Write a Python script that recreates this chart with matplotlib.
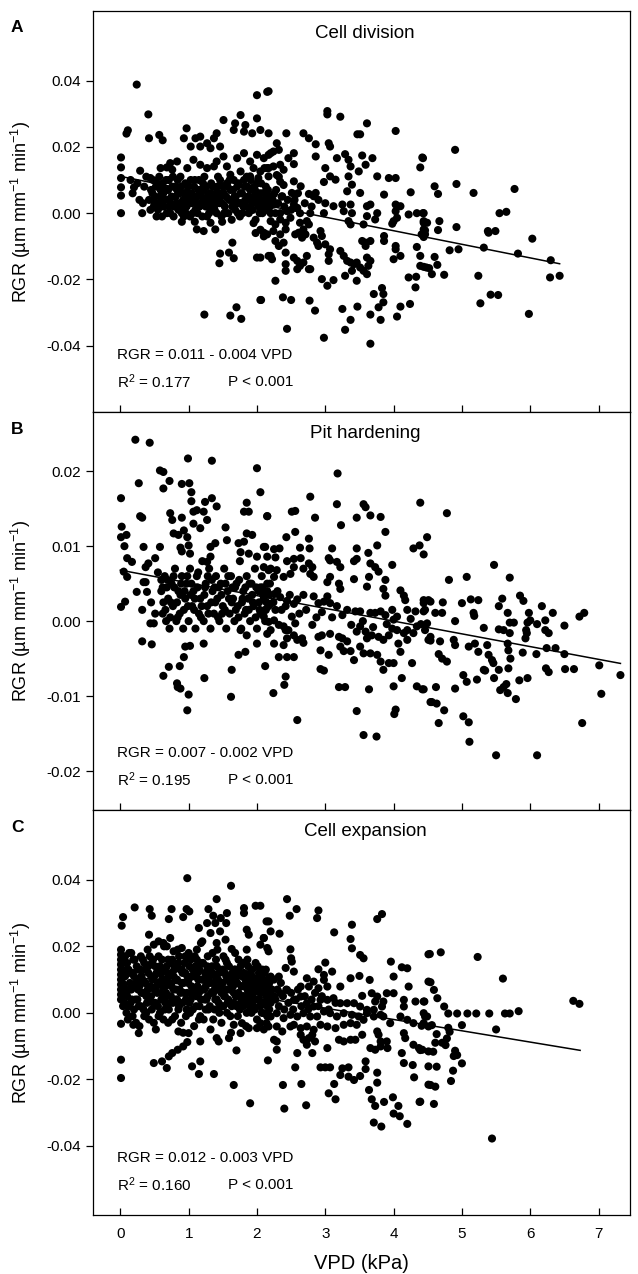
import numpy as np
import matplotlib
matplotlib.use('Agg')
import matplotlib.pyplot as plt

plt.rcParams['font.family'] = ['Liberation Sans', 'DejaVu Sans']
plt.rcParams['mathtext.default'] = 'regular'

# ---- panel A: cell division (VPD kPa, RGR) ----
pts_a = [
    (0.24, 0.0388), (0.41, 0.0298), (0.09, 0.024), (0.11, 0.025), (0.42, 0.0226), (0.57, 0.0236),
    (0.62, 0.022), (0.97, 0.0256), (0.01, 0.0168), (0.01, 0.0138), (0.01, 0.0106), (0.01, 0.0078),
    (0.01, 0.0053), (0.01, 0.0), (0.32, 0.0), (0.29, 0.0128), (0.2, 0.0078), (0.44, 0.0106),
    (0.59, 0.0136), (0.68, 0.0138), (0.76, 0.0131), (0.83, 0.0156), (0.73, 0.0151),
    (0.98, 0.0136), (1.07, 0.0161), (1.17, 0.0146), (1.27, 0.0136), (1.37, 0.0141), (1.41, 0.0156),
    (1.51, 0.0171), (1.56, 0.0141), (1.71, 0.0166), (1.81, 0.0181), (1.90, 0.0156), (2.0, 0.0176),
    (2.1, 0.0166), (2.17, 0.0176), (1.95, 0.0136), (2.05, 0.0126), (2.15, 0.0136),
    (0.93, 0.0226), (1.10, 0.0226), (1.17, 0.0201), (1.27, 0.0211), (1.37, 0.0226), (1.41, 0.0241),
    (1.17, 0.0231), (1.03, 0.0201), (1.32, 0.0196), (1.46, 0.0201), (1.51, 0.0281), (1.68, 0.0271),
    (1.76, 0.0296), (1.83, 0.0266), (2.0, 0.0356), (2.0, 0.0286), (2.15, 0.0366), (1.66, 0.0251),
    (1.81, 0.0246), (1.93, 0.0241), (2.05, 0.0251), (2.17, 0.0241),
    (1.61, 0.0116), (1.76, 0.0126), (1.90, 0.0111), (2.02, 0.0106), (2.17, 0.0111),
    (0.47, 0.006), (0.5, 0.003), (0.52, 0.008), (0.55, 0.001), (0.58, 0.005), (0.6, 0.002),
    (0.62, 0.009), (0.65, 0.004), (0.68, 0.0), (0.7, 0.007), (0.72, 0.002), (0.75, 0.005),
    (0.78, -0.001), (0.8, 0.008), (0.82, 0.003), (0.85, 0.001), (0.87, 0.006), (0.9, 0.0),
    (0.92, 0.004), (0.95, 0.009), (0.97, 0.002), (1.0, 0.006), (1.02, -0.001), (1.05, 0.003),
    (1.08, 0.008), (1.1, 0.001), (1.12, 0.005), (1.15, 0.01), (1.18, 0.003), (1.2, -0.001),
    (1.22, 0.007), (1.25, 0.002), (1.28, 0.005), (1.3, 0.0), (1.33, 0.009), (1.35, 0.004),
    (1.38, 0.001), (1.4, 0.006), (1.43, 0.011), (1.45, 0.003), (1.48, -0.001), (1.5, 0.008),
    (1.53, 0.002), (1.55, 0.005), (1.58, 0.0), (1.6, 0.01), (1.62, 0.004), (1.65, 0.007),
    (1.68, 0.001), (1.7, 0.003), (1.73, 0.009), (1.75, -0.001), (1.78, 0.006), (1.8, 0.002),
    (1.83, 0.004), (1.85, 0.011), (1.88, 0.0), (1.9, 0.007), (1.93, 0.003), (1.95, 0.005),
    (1.98, -0.002), (2.0, 0.009), (2.03, 0.002), (2.05, 0.006), (2.08, 0.0), (2.1, 0.004),
    (2.13, 0.008), (2.15, 0.002), (2.18, 0.005), (2.2, 0.0),
    (0.42, 0.004), (0.44, 0.001), (0.48, 0.01), (0.53, -0.001), (0.57, 0.011), (0.63, 0.006),
    (0.67, 0.01), (0.73, 0.0), (0.77, 0.011), (0.83, 0.007), (0.88, 0.011), (0.93, -0.001),
    (0.98, 0.004), (1.03, 0.01), (1.07, 0.005), (1.13, 0.0), (1.17, 0.007), (1.23, 0.011),
    (1.27, -0.001), (1.32, 0.006), (1.37, 0.002), (1.42, 0.008), (1.47, 0.005), (1.52, 0.0),
    (1.57, 0.008), (1.63, -0.002), (1.67, 0.005), (1.72, 0.0), (1.77, 0.003), (1.82, 0.008),
    (1.87, 0.005), (1.92, 0.001), (1.97, 0.007), (2.02, 0.004), (2.07, 0.001), (2.12, 0.006),
    (2.17, 0.003),
    (0.45, 0.007), (0.49, 0.002), (0.51, 0.005), (0.54, 0.009), (0.56, 0.003), (0.59, 0.007),
    (0.61, -0.001), (0.64, 0.002), (0.66, 0.007), (0.69, 0.004), (0.71, 0.01), (0.74, 0.003),
    (0.76, 0.008), (0.79, 0.002), (0.81, 0.005), (0.84, 0.01), (0.86, 0.003), (0.89, 0.008),
    (0.91, 0.002), (0.94, 0.006), (0.96, 0.0), (0.99, 0.008), (1.01, 0.003), (1.04, 0.006),
    (1.06, 0.0), (1.09, 0.01), (1.11, 0.003), (1.14, 0.007), (1.16, 0.002), (1.19, 0.005),
    (1.21, 0.009), (1.24, 0.004), (1.26, 0.008), (1.29, 0.003), (1.31, 0.006), (1.34, 0.001),
    (1.36, 0.008), (1.39, 0.004), (1.41, 0.0), (1.44, 0.006), (1.46, 0.01), (1.49, 0.003),
    (1.51, 0.006), (1.54, 0.0), (1.56, 0.009), (1.59, 0.004), (1.61, 0.007), (1.64, 0.002),
    (1.66, 0.01), (1.69, 0.005), (1.71, 0.008), (1.74, 0.003), (1.76, 0.006), (1.79, 0.0),
    (1.81, 0.01), (1.84, 0.002), (1.86, 0.008), (1.89, 0.004), (1.91, 0.01), (1.94, 0.001),
    (1.96, 0.008), (1.99, 0.003), (2.01, 0.006), (2.04, 0.0), (2.06, 0.009), (2.09, 0.003),
    (2.11, 0.001), (2.14, 0.004), (2.16, 0.007), (2.19, 0.002), (2.23, 0.004), (2.28, 0.007),
    (2.31, 0.003), (2.36, 0.005), (2.4, 0.002), (2.45, 0.004), (2.5, 0.001), (2.55, 0.004),
    (2.6, 0.006), (2.7, 0.003), (2.8, 0.002), (2.9, 0.004), (3.0, 0.003),
    (0.15, 0.01), (0.18, 0.006), (0.25, 0.009), (0.28, 0.004), (0.35, 0.008), (0.38, 0.011),
    (0.33, 0.003),
    (0.90, -0.0026), (1.09, -0.0026), (1.12, -0.0049), (1.22, -0.0054), (1.32, -0.0029),
    (1.39, -0.0049), (1.49, -0.0026), (1.64, -0.0089), (1.46, -0.0122), (1.59, -0.0119),
    (1.66, -0.0136), (1.45, -0.0151), (2.0, -0.0134), (2.17, -0.0129), (2.06, -0.0262),
    (1.23, -0.0306), (1.61, -0.0309), (1.70, -0.0284), (1.77, -0.0319),
    (1.95, -0.003), (2.05, -0.005), (2.1, -0.007), (1.98, -0.006),
    (2.17, 0.0368), (3.03, 0.0308), (3.03, 0.0298), (3.22, 0.0291), (3.61, 0.0271), (4.03, 0.0248),
    (2.43, 0.0241), (2.68, 0.0241), (2.76, 0.0226), (2.86, 0.0208), (3.05, 0.0211), (3.07, 0.0201),
    (3.47, 0.0238), (3.51, 0.0238), (2.29, 0.0211), (2.32, 0.0191), (2.24, 0.0186), (2.2, 0.0181),
    (2.54, 0.0181), (2.54, 0.0148), (2.46, 0.0166), (2.86, 0.0171), (3.17, 0.0166), (3.29, 0.0178),
    (3.34, 0.0161), (3.37, 0.0141), (3.54, 0.0174), (3.59, 0.0146), (3.69, 0.0166), (3.49, 0.0126),
    (3.0, 0.0136), (3.07, 0.0111), (3.15, 0.0101), (2.98, 0.0094), (3.34, 0.0111), (3.39, 0.0086),
    (3.32, 0.0066), (3.51, 0.0061), (3.76, 0.0111), (3.93, 0.0106), (4.03, 0.0106), (3.86, 0.0056),
    (4.25, 0.0063), (4.42, 0.0168), (4.39, 0.0138), (2.34, 0.0146), (2.39, 0.0131), (2.24, 0.0141),
    (2.17, 0.0136), (2.11, 0.0136), (2.32, 0.011), (2.34, 0.0095), (2.39, 0.0085), (2.29, 0.0115),
    (2.54, 0.0096), (2.64, 0.0081), (2.56, 0.0056), (2.51, 0.0061), (2.76, 0.0058), (2.83, 0.0051),
    (2.86, 0.0061), (2.10, 0.0061), (2.15, 0.0051), (2.25, 0.0058), (2.37, 0.0051),
    (2.07, 0.0016), (2.1, 0.0006), (2.25, 0.0026), (2.27, 0.0), (2.34, 0.0), (2.44, 0.0006),
    (2.54, 0.0026), (2.59, 0.0016), (2.63, 0.0), (2.78, 0.0), (2.98, 0.0), (3.12, 0.0021),
    (3.25, 0.0026), (3.27, 0.0006), (3.37, 0.0026), (3.39, 0.0), (3.61, 0.0021), (3.66, 0.0026),
    (3.76, 0.0), (4.03, 0.0026), (4.03, 0.0006), (4.1, 0.0021), (4.22, -0.0004), (4.34, 0.0),
    (4.44, 0.0),
    (3.61, -0.0009), (3.73, -0.0019), (3.34, -0.0024), (3.37, -0.0034), (3.56, -0.0034),
    (4.0, -0.0024), (4.05, -0.0014), (3.98, -0.0032),
    (2.2, -0.0024), (2.27, -0.0034), (2.34, -0.0019), (2.42, -0.0029), (2.49, -0.0014),
    (2.63, -0.0029), (2.73, -0.0024), (2.76, -0.0034),
    (2.1, -0.0059), (2.15, -0.0064), (2.24, -0.0054), (2.34, -0.0064), (2.42, -0.0049),
    (2.56, -0.0064), (2.61, -0.0059), (2.66, -0.0074), (2.68, -0.0049), (2.71, -0.0064),
    (2.93, -0.0054), (2.95, -0.0069),
    (2.27, -0.0084), (2.32, -0.0099), (2.39, -0.0089), (2.42, -0.0119), (2.2, -0.0129),
    (2.22, -0.0139), (2.05, -0.0134),
    (2.83, -0.0074), (2.88, -0.0089), (2.9, -0.0099), (3.0, -0.0094), (3.07, -0.0109), (3.05, -0.0124),
    (2.54, -0.0134), (2.59, -0.0144), (2.63, -0.0159), (2.68, -0.0149), (2.59, -0.0169),
    (2.73, -0.0129), (2.76, -0.0169), (2.42, -0.0174), (2.42, -0.0154),
    (3.05, -0.0144), (3.22, -0.0114), (3.27, -0.0129), (3.32, -0.0144), (3.37, -0.0149),
    (3.42, -0.0154), (3.46, -0.0149), (3.51, -0.0164), (3.56, -0.0174), (3.61, -0.0184),
    (3.63, -0.0159), (3.66, -0.0144), (3.61, -0.0134), (3.39, -0.0174), (3.29, -0.0189),
    (3.46, -0.0204),
    (3.54, -0.0084), (3.59, -0.0089), (3.66, -0.0084), (3.59, -0.0099), (3.86, -0.0069),
    (3.86, -0.0084), (4.03, -0.0099), (4.03, -0.0109), (4.0, -0.0139), (4.1, -0.0129),
    (2.95, -0.0199), (3.03, -0.0219), (3.12, -0.0202), (2.78, -0.0169), (2.27, -0.0204),
    (2.05, -0.0262), (2.38, -0.0254), (2.5, -0.0262), (2.77, -0.0264), (2.85, -0.0294),
    (2.44, -0.0349), (2.98, -0.0376), (3.25, -0.0289), (3.29, -0.0352), (3.37, -0.0322),
    (3.47, -0.0282), (3.66, -0.0394), (3.66, -0.0306), (3.71, -0.0244), (3.78, -0.0284),
    (3.81, -0.0322), (3.83, -0.0226), (3.85, -0.0244), (3.85, -0.0269), (4.05, -0.0312),
    (4.1, -0.0282), (4.24, -0.0274), (4.22, -0.0194), (4.33, -0.0192), (4.32, -0.0224),
    (4.39, -0.0159), (4.48, -0.0164), (4.34, -0.0102), (4.39, -0.0129), (4.44, -0.0049),
    (4.46, -0.0064), (4.44, -0.0029),
    (4.90, 0.0191), (4.43, 0.0166), (4.60, 0.0081), (4.65, 0.0058), (4.92, 0.0088),
    (5.17, 0.0061), (5.77, 0.0073), (5.55, 0.0), (5.65, 0.0004), (4.43, 0.0), (4.44, -0.0024),
    (4.49, -0.0029), (4.46, -0.0052), (4.41, -0.0064), (4.44, -0.0072), (4.67, -0.0024),
    (4.65, -0.0051), (4.92, -0.0042), (5.38, -0.0054), (5.39, -0.0059), (5.49, -0.0054),
    (6.03, -0.0077), (4.60, -0.0132), (4.82, -0.0112), (4.95, -0.0109), (5.32, -0.0104),
    (5.82, -0.0122), (6.30, -0.0142), (4.44, -0.0162), (4.52, -0.0166), (4.56, -0.0184),
    (4.64, -0.0156), (4.74, -0.0186), (5.24, -0.0189), (6.29, -0.0194), (6.43, -0.0189),
    (5.42, -0.0246), (5.53, -0.0247), (5.27, -0.0272), (5.98, -0.0304),
]

# ---- panel B: pit hardening ----
pts_b = [
    (0.22, 0.0242), (0.43, 0.0238), (0.99, 0.0217), (1.34, 0.0214), (0.58, 0.0201), (0.63, 0.0199),
    (0.72, 0.0187), (0.63, 0.0177), (0.27, 0.0184), (0.90, 0.0183), (1.01, 0.0184), (1.04, 0.0172),
    (0.01, 0.0164), (1.04, 0.016), (1.12, 0.0148), (1.24, 0.0159), (1.34, 0.0164), (1.41, 0.0153),
    (1.22, 0.0146), (0.73, 0.0144), (0.76, 0.0135), (0.90, 0.0138), (1.07, 0.0146), (0.29, 0.014),
    (0.32, 0.0138), (1.27, 0.0135), (1.07, 0.013), (1.17, 0.0124), (1.85, 0.0158), (1.88, 0.0146),
    (1.81, 0.0146), (2.0, 0.0204), (2.05, 0.0172), (2.15, 0.014), (1.54, 0.0125), (0.02, 0.0126),
    (0.01, 0.0112), (0.09, 0.0115), (0.06, 0.01), (0.34, 0.0099), (0.58, 0.0099), (0.78, 0.0117),
    (0.85, 0.0115), (0.98, 0.0112), (0.93, 0.0121), (0.88, 0.0098), (0.9, 0.0093), (1.02, 0.009),
    (1.0, 0.0101), (1.32, 0.0099), (1.39, 0.0104), (1.32, 0.0086), (1.27, 0.0079), (1.56, 0.0108),
    (1.73, 0.0104), (1.81, 0.0106), (1.85, 0.0117), (1.93, 0.0115), (1.76, 0.0092), (1.88, 0.009),
    (2.0, 0.0086), (2.1, 0.0099), (0.10, 0.0084), (0.17, 0.0079), (0.37, 0.0072), (0.51, 0.0084),
    (0.41, 0.0077), (0.05, 0.0066), (0.10, 0.0059), (0.34, 0.0052), (0.44, -0.0003), (0.49, -0.0003),
    (0.32, 0.0015), (0.24, 0.0039), (0.39, 0.0039), (0.37, 0.0052), (0.01, 0.0019), (0.07, 0.0026),
    (0.51, 0.001), (0.32, -0.0027), (0.46, -0.0031), (0.95, -0.0034), (1.02, -0.0033),
    (1.22, -0.003), (0.93, -0.0048), (1.73, -0.0045), (1.83, -0.0041), (1.85, -0.0019),
    (2.0, -0.003), (1.76, -0.0012), (0.71, -0.0061), (0.63, -0.0073), (0.87, -0.006),
    (1.23, -0.0076), (1.63, -0.0065), (2.12, -0.006), (0.83, -0.0083), (0.88, -0.009),
    (1.0, -0.0098), (0.84, -0.0088), (1.62, -0.0101), (0.98, -0.0119),
    (0.6, 0.004), (0.62, 0.001), (0.65, 0.006), (0.67, 0.0), (0.7, 0.003), (0.72, -0.001),
    (0.75, 0.005), (0.77, 0.002), (0.8, 0.007), (0.82, 0.0), (0.85, 0.004), (0.87, 0.001),
    (0.9, 0.006), (0.92, -0.001), (0.95, 0.003), (0.97, 0.005), (1.0, 0.0), (1.02, 0.007),
    (1.05, 0.002), (1.07, 0.004), (1.1, -0.001), (1.12, 0.006), (1.15, 0.001), (1.17, 0.003),
    (1.2, 0.008), (1.22, 0.0), (1.25, 0.005), (1.27, 0.002), (1.3, 0.007), (1.32, -0.001),
    (1.35, 0.004), (1.37, 0.001), (1.4, 0.006), (1.42, 0.003), (1.45, 0.0), (1.47, 0.005),
    (1.5, 0.002), (1.52, 0.007), (1.55, -0.001), (1.57, 0.004), (1.6, 0.001), (1.62, 0.006),
    (1.65, 0.003), (1.67, 0.0), (1.7, 0.005), (1.72, 0.002), (1.75, 0.008), (1.77, -0.001),
    (1.8, 0.004), (1.82, 0.001), (1.85, 0.006), (1.87, 0.003), (1.9, 0.0), (1.92, 0.005),
    (1.95, 0.002), (1.97, 0.007), (2.0, -0.001), (2.02, 0.004), (2.05, 0.001), (2.07, 0.006),
    (2.1, 0.003), (2.12, 0.0), (2.15, 0.005), (2.17, 0.002), (2.2, 0.007),
    (0.63, 0.0025), (0.68, 0.0045), (0.73, 0.0005), (0.78, 0.006), (0.83, 0.0025), (0.88, 0.0035),
    (0.93, 0.0015), (0.98, 0.006), (1.03, 0.0035), (1.08, 0.0015), (1.13, 0.0045), (1.18, 0.0005),
    (1.23, 0.0035), (1.28, 0.006), (1.33, 0.0025), (1.38, 0.0045), (1.43, 0.0005), (1.48, 0.0035),
    (1.53, 0.0015), (1.58, 0.006), (1.63, 0.0025), (1.68, 0.0045), (1.73, 0.0005), (1.78, 0.0025),
    (1.83, 0.0045), (1.88, 0.0015), (1.93, 0.0035), (1.98, 0.0005), (2.03, 0.0025), (2.08, 0.0045),
    (2.13, 0.0015), (2.18, 0.0035), (0.55, 0.0065), (0.6, 0.0055), (0.45, 0.0025),
    (0.62, 0.0045), (0.66, 0.0015), (0.69, 0.0055), (0.74, 0.0025), (0.79, 0.0045), (0.84, 0.0005),
    (0.89, 0.005), (0.94, 0.004), (0.99, 0.002), (1.04, 0.005), (1.09, 0.003), (1.14, 0.0065),
    (1.19, 0.002), (1.24, 0.0045), (1.29, 0.001), (1.34, 0.0055), (1.39, 0.0025), (1.44, 0.0045),
    (1.49, 0.001), (1.54, 0.005), (1.59, 0.003), (1.64, 0.0045), (1.69, 0.0015), (1.74, 0.0055),
    (1.79, 0.003), (1.84, 0.0015), (1.89, 0.005), (1.94, 0.0025), (1.99, 0.0045), (2.04, 0.0015),
    (2.09, 0.0035), (2.14, 0.0025), (2.19, 0.005), (2.24, 0.0025), (2.3, 0.004), (2.36, 0.0015),
    (2.48, 0.0035), (2.62, 0.001), (2.72, 0.0015), (2.87, 0.0005), (2.95, 0.0012), (3.1, 0.0005),
    (3.25, 0.0008), (3.38, -0.0005), (3.55, 0.0), (3.7, -0.0008), (3.9, -0.0004), (4.0, 0.0002),
    (4.25, 0.0003), (4.4, -0.0004),
    (3.18, 0.0197), (2.78, 0.0166), (3.17, 0.0156), (3.56, 0.0156), (3.59, 0.0152), (2.51, 0.0146),
    (2.56, 0.0147), (2.15, 0.014), (2.85, 0.0138), (3.46, 0.0138), (3.66, 0.0141), (3.81, 0.0139),
    (3.23, 0.0128), (4.39, 0.0158), (2.56, 0.0119), (2.43, 0.0112), (2.76, 0.011), (2.77, 0.0097),
    (2.63, 0.0098), (3.10, 0.0097), (3.46, 0.0097), (3.63, 0.0091), (3.76, 0.0101), (3.88, 0.0119),
    (4.49, 0.0112), (4.29, 0.0097), (4.38, 0.0101), (4.44, 0.0089),
    (2.12, 0.0099), (2.25, 0.0096), (2.33, 0.0097), (2.15, 0.0086), (2.27, 0.0085), (2.44, 0.008),
    (2.54, 0.0083), (2.64, 0.0084), (2.1, 0.0072), (2.17, 0.0068),
    (3.05, 0.0084), (3.07, 0.0081), (3.17, 0.0079), (3.22, 0.0072), (3.42, 0.0080), (3.46, 0.0083),
    (3.66, 0.0077), (3.73, 0.0072), (3.78, 0.0066), (3.98, 0.0075),
    (2.76, 0.0077), (2.81, 0.0072), (2.78, 0.0063), (2.83, 0.0059), (2.68, 0.007), (2.54, 0.0072),
    (2.49, 0.0063), (2.29, 0.0068), (2.39, 0.0059), (2.25, 0.0059),
    (3.03, 0.0052), (3.07, 0.0059), (3.2, 0.005), (3.22, 0.0043), (3.42, 0.0056), (3.64, 0.0059),
    (3.61, 0.0046), (3.88, 0.0055), (3.85, 0.0043), (3.88, 0.0034), (4.1, 0.0041), (4.15, 0.0034),
    (4.17, 0.0028),
    (2.68, 0.0035), (2.83, 0.0033), (2.9, 0.0024), (2.98, 0.0026), (3.03, 0.0033), (3.07, 0.0024),
    (3.17, 0.002), (3.32, 0.0015), (3.44, 0.0013), (3.51, 0.0013), (3.66, 0.0011), (3.73, 0.0011),
    (3.81, 0.0013), (3.88, 0.0008), (3.98, 0.0015), (4.05, 0.0006), (4.2, 0.0015), (4.32, 0.0013),
    (4.44, 0.0013), (4.51, 0.0028), (4.44, 0.0024),
    (2.05, 0.0045), (2.15, 0.004), (2.25, 0.0036), (2.34, 0.0032), (2.44, 0.0027), (2.54, 0.0023),
    (2.59, 0.0029), (2.2, 0.0023), (2.12, 0.0015), (2.27, 0.0015), (2.42, 0.002), (2.51, 0.0006),
    (2.1, 0.0006), (2.17, -0.0001), (2.25, 0.0001), (2.32, -0.0005), (2.39, -0.0007),
    (2.46, -0.0012), (2.56, -0.0003),
    (2.15, -0.0017), (2.2, -0.0012), (2.42, -0.0012), (2.44, -0.0023), (2.54, -0.0019), (2.59, -0.0025),
    (2.66, -0.0023), (2.68, -0.0029), (2.81, -0.0005), (2.9, -0.0021), (2.95, -0.0019),
    (3.07, -0.0017), (3.2, -0.0021), (3.25, -0.0023), (3.32, -0.0027), (3.46, -0.0014),
    (3.51, -0.0007), (3.59, -0.0014), (3.61, -0.0023), (3.68, -0.0019), (3.78, -0.0021),
    (3.85, -0.0025), (3.93, -0.0019), (3.98, -0.001), (4.05, -0.0012), (4.15, -0.0016),
    (4.2, -0.0012), (4.29, -0.0016), (4.34, -0.0007), (4.49, -0.0003), (4.46, -0.0012),
    (4.54, -0.0021), (4.51, -0.0025),
    (2.25, -0.003), (2.39, -0.0032), (2.32, -0.0048), (2.44, -0.0048), (2.54, -0.0048),
    (2.93, -0.0039), (3.05, -0.0045), (3.22, -0.0034), (3.27, -0.004), (3.37, -0.004),
    (3.42, -0.0052), (3.51, -0.0034), (3.56, -0.0043), (3.66, -0.0043), (3.76, -0.0045),
    (3.81, -0.0054), (3.93, -0.0056), (3.85, -0.0065), (4.07, -0.003), (4.1, -0.0041),
    (4.0, -0.0056), (4.2, -0.0025), (4.27, -0.0056),
    (2.42, -0.0074), (2.4, -0.0085), (2.24, -0.0096), (2.93, -0.0064), (2.98, -0.0066),
    (3.2, -0.0088), (3.29, -0.0088), (3.64, -0.0091), (4.12, -0.0076), (4.0, -0.0087),
    (4.34, -0.0087), (4.42, -0.0091), (3.46, -0.012), (4.03, -0.0118), (4.01, -0.0124),
    (2.59, -0.0132), (3.56, -0.0152), (3.75, -0.0154), (4.54, -0.0108),
    (4.78, 0.0144), (5.47, 0.0075), (4.81, 0.0055), (5.07, 0.0059), (5.70, 0.0058),
    (4.44, 0.0028), (4.54, 0.0026), (4.46, 0.0015), (4.61, 0.0011), (4.71, 0.0011), (4.72, 0.0025),
    (5.0, 0.0024), (5.13, 0.0029), (5.24, 0.0028), (5.17, 0.0011), (5.18, 0.0007), (4.90, 0.0),
    (5.32, -0.0009), (5.54, 0.002), (5.59, 0.003), (5.67, 0.0011), (5.70, -0.0002), (5.76, -0.0002),
    (5.54, -0.0011), (5.61, -0.0012), (5.70, -0.0016), (5.85, 0.0034), (5.90, 0.0027),
    (5.98, 0.0011), (5.96, -0.0002), (6.0, 0.0001), (5.94, -0.0012), (5.95, -0.0016),
    (5.93, -0.0023), (6.10, -0.0004), (6.17, 0.002), (6.22, 0.0001), (6.22, -0.0012),
    (6.27, -0.0016), (6.33, 0.0011), (6.50, -0.0006), (6.72, 0.0006), (6.79, 0.0011),
    (4.54, -0.0026), (4.68, -0.0027), (4.88, -0.0025), (4.90, -0.0032), (5.10, -0.0034),
    (5.19, -0.003), (5.24, -0.0041), (5.37, -0.0032), (5.39, -0.0045), (5.44, -0.0052),
    (5.46, -0.0056), (5.54, -0.0065), (5.67, -0.003), (5.68, -0.0039), (5.71, -0.005),
    (5.68, -0.0063), (5.89, -0.0042), (6.09, -0.0044), (6.24, -0.0036), (6.37, -0.0036),
    (6.50, -0.0044), (6.23, -0.0063), (6.27, -0.0068), (6.51, -0.0064), (6.64, -0.0064),
    (7.01, -0.0059), (7.32, -0.0072), (4.66, -0.0044), (4.71, -0.005), (4.78, -0.0054),
    (5.02, -0.0072), (5.07, -0.0081), (5.22, -0.0078), (5.34, -0.0066), (5.32, -0.0065),
    (5.47, -0.0076), (5.56, -0.0092), (5.61, -0.0088), (5.65, -0.0084), (5.67, -0.0096),
    (5.79, -0.0104), (5.84, -0.0079), (5.96, -0.0076), (4.90, -0.009), (4.44, -0.0091),
    (4.62, -0.0088), (4.56, -0.0108), (4.63, -0.011), (4.74, -0.0119), (5.02, -0.0127),
    (5.10, -0.0135), (4.66, -0.0136), (5.11, -0.0161), (5.50, -0.0179), (6.10, -0.0179),
    (6.76, -0.0136), (7.04, -0.0097),
]

# ---- panel C: cell expansion ----
pts_c = [
    (0.98, 0.0405), (1.62, 0.0382), (1.41, 0.0342), (0.21, 0.0317), (0.43, 0.0312), (0.46, 0.0292),
    (0.75, 0.0312), (0.71, 0.0282), (0.97, 0.0312), (1.01, 0.0305), (0.92, 0.0288), (0.04, 0.0288),
    (0.02, 0.0262), (1.29, 0.0312), (1.36, 0.0292), (1.27, 0.027), (1.39, 0.027), (1.47, 0.0285),
    (1.56, 0.03), (1.55, 0.027), (1.81, 0.0315), (1.81, 0.03), (1.98, 0.0322), (1.85, 0.025),
    (1.88, 0.0235), (2.14, 0.0275), (1.15, 0.0255), (1.32, 0.024), (1.46, 0.0245), (1.54, 0.022),
    (1.20, 0.0215), (1.12, 0.019), (1.41, 0.021), (0.42, 0.0235), (0.49, 0.0205), (0.56, 0.0215),
    (0.63, 0.021), (0.73, 0.0225), (0.68, 0.02), (0.78, 0.0185), (0.90, 0.0195), (1.63, 0.0192),
    (1.85, 0.019), (2.10, 0.0225), (2.15, 0.0195),
    (0.01, 0.019), (0.01, 0.0175), (0.01, 0.016), (0.01, 0.0145), (0.01, 0.013), (0.01, 0.0115),
    (0.01, 0.01), (0.01, 0.0085), (0.01, 0.007), (0.01, 0.0055), (0.01, 0.004), (0.01, -0.0033),
    (0.01, -0.0141), (0.01, -0.0196),
    (0.19, -0.0036), (0.27, -0.0061), (0.85, -0.0056), (1.0, -0.0061), (1.17, -0.0086),
    (1.41, -0.0076), (1.44, -0.0086), (1.59, -0.0076), (1.66, -0.0036), (1.78, -0.0031),
    (1.76, -0.0061), (1.88, -0.0046), (2.0, -0.0046), (2.14, -0.0031), (1.70, -0.0113),
    (0.98, -0.0088), (0.92, -0.0101), (0.84, -0.0111), (0.76, -0.0121), (0.71, -0.0131),
    (0.61, -0.0146), (0.49, -0.0151), (0.68, -0.0166), (1.05, -0.0161), (1.17, -0.0146),
    (1.15, -0.0184), (1.37, -0.0184), (1.66, -0.0217), (1.90, -0.0272),
    (0.05, 0.012), (0.08, 0.006), (0.1, 0.015), (0.12, 0.002), (0.14, 0.009), (0.16, 0.018),
    (0.18, -0.001), (0.2, 0.011), (0.22, 0.004), (0.24, 0.014), (0.26, 0.007), (0.28, -0.004),
    (0.3, 0.017), (0.32, 0.01), (0.34, 0.001), (0.36, 0.013), (0.38, 0.005), (0.4, 0.019),
    (0.42, -0.002), (0.44, 0.008), (0.46, 0.015), (0.48, 0.003), (0.5, 0.011), (0.52, -0.005),
    (0.54, 0.006), (0.56, 0.017), (0.58, 0.0), (0.6, 0.012), (0.62, 0.008), (0.64, 0.02),
    (0.66, 0.003), (0.68, 0.014), (0.7, -0.003), (0.72, 0.009), (0.74, 0.005), (0.76, 0.016),
    (0.78, 0.011), (0.8, -0.001), (0.82, 0.007), (0.84, 0.019), (0.86, 0.002), (0.88, 0.013),
    (0.9, 0.009), (0.92, -0.006), (0.94, 0.015), (0.96, 0.004), (0.98, 0.011), (1.0, 0.018),
    (1.02, 0.0), (1.04, 0.008), (1.06, 0.013), (1.08, -0.004), (1.1, 0.006), (1.12, 0.016),
    (1.14, 0.01), (1.16, 0.002), (1.18, 0.021), (1.2, 0.007), (1.22, -0.002), (1.24, 0.012),
    (1.26, 0.004), (1.28, 0.017), (1.3, 0.009), (1.32, -0.005), (1.34, 0.014), (1.36, 0.006),
    (1.38, 0.001), (1.4, 0.011), (1.42, 0.019), (1.44, 0.003), (1.46, 0.008), (1.48, -0.003),
    (1.5, 0.013), (1.52, 0.005), (1.54, 0.016), (1.56, 0.0), (1.58, 0.01), (1.6, 0.007),
    (1.62, -0.006), (1.64, 0.012), (1.66, 0.003), (1.68, 0.018), (1.7, 0.009), (1.72, -0.001),
    (1.74, 0.005), (1.76, 0.014), (1.78, 0.011), (1.8, 0.002), (1.82, 0.008), (1.84, -0.004),
    (1.86, 0.016), (1.88, 0.006), (1.9, 0.012), (1.92, 0.0), (1.94, 0.009), (1.96, 0.004),
    (1.98, 0.015), (2.0, -0.002), (2.02, 0.007), (2.04, 0.011), (2.06, 0.003), (2.08, 0.013),
    (2.1, -0.005), (2.12, 0.008), (2.14, 0.005), (2.16, 0.01), (2.18, 0.001), (2.2, 0.006),
    (0.03, 0.009), (0.06, 0.003), (0.09, 0.013), (0.11, -0.002), (0.13, 0.007), (0.15, 0.012),
    (0.17, 0.004), (0.19, 0.016), (0.21, 0.008), (0.23, -0.003), (0.25, 0.01), (0.27, 0.002),
    (0.29, 0.013), (0.31, 0.006), (0.33, 0.016), (0.35, -0.001), (0.37, 0.009), (0.39, 0.003),
    (0.41, 0.012), (0.43, 0.017), (0.45, 0.005), (0.47, 0.01), (0.49, -0.003), (0.51, 0.014),
    (0.53, 0.008), (0.55, 0.002), (0.57, 0.012), (0.59, 0.006), (0.61, 0.016), (0.63, -0.002),
    (0.65, 0.01), (0.67, 0.006), (0.69, 0.012), (0.71, 0.001), (0.73, 0.015), (0.75, 0.008),
    (0.77, 0.003), (0.79, 0.013), (0.81, 0.01), (0.83, 0.004), (0.85, 0.015), (0.87, 0.007),
    (0.89, -0.003), (0.91, 0.012), (0.93, 0.006), (0.95, 0.017), (0.97, 0.001), (0.99, 0.009),
    (1.01, 0.014), (1.03, 0.004), (1.05, 0.011), (1.07, 0.007), (1.09, 0.017), (1.11, 0.002),
    (1.13, 0.012), (1.15, 0.006), (1.17, -0.001), (1.19, 0.015), (1.21, 0.01), (1.23, 0.004),
    (1.25, 0.008), (1.27, 0.014), (1.29, 0.001), (1.31, 0.011), (1.33, 0.006), (1.35, 0.018),
    (1.37, 0.009), (1.39, 0.004), (1.41, 0.014), (1.43, 0.007), (1.45, 0.012), (1.47, 0.002),
    (1.49, 0.009), (1.51, 0.017), (1.53, 0.005), (1.55, 0.011), (1.57, 0.003), (1.59, 0.014),
    (1.61, 0.009), (1.63, 0.002), (1.65, 0.008), (1.67, 0.013), (1.69, 0.005), (1.71, 0.011),
    (1.73, 0.016), (1.75, 0.001), (1.77, 0.008), (1.79, 0.005), (1.81, 0.012), (1.83, 0.003),
    (1.85, 0.009), (1.87, 0.014), (1.89, 0.002), (1.91, 0.007), (1.93, 0.011), (1.95, 0.006),
    (1.97, 0.001), (1.99, 0.01), (2.01, 0.014), (2.03, 0.004), (2.05, 0.008), (2.07, 0.0),
    (2.09, 0.01), (2.11, 0.006), (2.13, 0.013), (2.15, 0.002), (2.17, 0.008), (2.19, 0.004),
    (0.02, 0.015), (0.04, 0.002), (0.05, 0.008), (0.07, 0.017), (0.07, 0.011), (0.09, 0.0),
    (0.1, 0.005), (0.12, 0.013), (0.13, 0.018), (0.15, 0.003), (0.16, 0.007), (0.18, 0.012),
    (0.2, 0.001), (0.21, 0.016), (0.23, 0.009), (0.25, 0.004), (0.26, 0.013), (0.28, 0.008),
    (0.3, 0.002), (0.31, 0.011), (0.33, 0.006), (0.35, 0.015), (0.36, 0.009), (0.38, 0.0),
    (0.4, 0.007), (0.41, 0.014), (0.43, 0.004), (0.45, 0.011), (0.46, 0.001), (0.48, 0.016),
    (0.5, 0.007), (0.51, 0.003), (0.53, 0.012), (0.55, 0.009), (0.56, -0.001), (0.58, 0.014),
    (0.6, 0.004), (0.61, 0.01), (0.63, 0.013), (0.65, 0.001), (0.66, 0.008), (0.68, 0.005),
    (0.7, 0.016), (0.71, 0.011), (0.73, 0.003), (0.75, 0.012), (0.76, -0.002), (0.78, 0.007),
    (0.8, 0.014), (0.81, 0.004), (0.83, 0.01), (0.85, 0.001), (0.86, 0.017), (0.88, 0.006),
    (0.9, 0.013), (0.91, 0.003), (0.93, 0.009), (0.95, 0.012), (0.96, -0.001), (0.98, 0.006),
    (1.0, 0.01), (1.01, 0.003), (1.03, 0.016), (1.05, 0.006), (1.06, 0.001), (1.08, 0.011),
    (1.1, 0.014), (1.11, 0.005), (1.13, 0.008), (1.15, -0.002), (1.16, 0.013), (1.18, 0.004),
    (1.2, 0.01), (1.21, 0.015), (1.23, 0.007), (1.25, 0.001), (1.26, 0.011), (1.28, 0.005),
    (1.3, 0.013), (1.31, 0.002), (1.33, 0.009), (1.35, 0.012), (1.36, -0.002), (1.38, 0.007),
    (1.4, 0.016), (1.41, 0.004), (1.43, 0.01), (1.45, 0.0), (1.46, 0.013), (1.48, 0.006),
    (1.5, 0.009), (1.51, 0.002), (1.53, 0.012), (1.55, 0.007), (1.56, 0.015), (1.58, 0.004),
    (1.6, 0.011), (1.61, -0.001), (1.63, 0.008), (1.65, 0.01), (1.66, 0.006), (1.68, 0.013),
    (1.7, 0.002), (1.71, 0.009), (1.73, 0.006), (1.75, 0.012), (1.76, 0.003), (1.78, 0.008),
    (1.8, 0.015), (1.81, 0.005), (1.83, 0.01), (1.85, 0.0), (1.86, 0.007), (1.88, 0.011),
    (1.9, 0.004), (1.91, 0.009), (1.93, 0.013), (1.95, 0.002), (1.96, 0.007), (1.98, 0.01),
    (2.0, 0.004), (2.01, 0.008), (2.03, 0.012), (2.05, 0.002), (2.06, 0.006), (2.08, 0.009),
    (2.1, 0.003), (2.11, 0.012), (2.13, 0.007), (2.15, -0.001), (2.16, 0.005), (2.18, 0.009),
    (2.2, 0.003), (2.22, 0.007), (2.25, 0.01), (2.27, 0.004), (2.3, 0.007), (2.32, 0.002),
    (2.35, 0.009), (2.38, 0.005), (2.4, 0.001), (2.43, 0.007), (2.46, 0.003), (2.5, 0.006),
    (2.53, 0.001), (2.57, 0.004), (2.6, 0.007), (2.65, 0.002), (2.7, 0.005), (2.75, 0.001),
    (2.8, 0.004), (2.85, 0.006), (2.9, 0.002), (2.95, 0.005), (3.05, 0.001), (3.15, 0.003),
    (2.44, 0.0342), (2.58, 0.0312), (2.48, 0.0292), (2.90, 0.0308), (2.88, 0.0285), (2.17, 0.0275),
    (2.05, 0.0322), (3.76, 0.0282), (3.83, 0.0297), (3.39, 0.0265), (2.20, 0.0245), (2.33, 0.0238),
    (2.10, 0.0225), (2.05, 0.0205), (2.17, 0.0185), (3.13, 0.0242), (3.37, 0.0222), (3.39, 0.0194),
    (3.51, 0.0174), (3.56, 0.0164), (2.49, 0.0191), (2.5, 0.0164), (2.51, 0.0154), (4.51, 0.0176),
    (3.0, 0.0151), (2.90, 0.0131), (3.10, 0.0124), (2.98, 0.0114), (2.42, 0.0135), (2.54, 0.0124),
    (2.32, 0.0109), (2.20, 0.0109), (3.96, 0.0154), (4.12, 0.0137), (4.20, 0.0134), (4.0, 0.0109),
    (3.37, 0.0104), (3.50, 0.0111), (3.65, 0.0099), (4.22, 0.0079), (4.51, 0.0094), (2.73, 0.0104),
    (2.83, 0.0094), (2.64, 0.0079), (2.76, 0.0079), (2.90, 0.0074), (3.03, 0.0079), (3.22, 0.0079),
    (2.98, 0.0099), (3.54, 0.0051), (3.68, 0.0059), (3.76, 0.0049), (3.90, 0.0059), (4.0, 0.0059),
    (3.73, 0.0034), (3.85, 0.0034), (3.83, 0.0019), (4.15, 0.0039), (4.32, 0.0034), (4.44, 0.0034),
    (4.15, 0.0019),
    (2.05, 0.0059), (2.15, 0.0039), (2.25, 0.0049), (2.34, 0.0059), (2.44, 0.0069), (2.54, 0.0039),
    (2.64, 0.0049), (2.73, 0.0029), (2.83, 0.0019), (2.93, 0.0039), (3.03, 0.0039), (3.12, 0.0044),
    (3.22, 0.0029), (3.32, 0.0029), (3.42, 0.0029), (3.51, 0.0019), (3.61, 0.0009), (3.71, 0.0009),
    (3.81, -0.0006),
    (2.10, -0.0001), (2.20, -0.0011), (2.29, -0.0001), (2.39, -0.0016), (2.49, -0.0006),
    (2.59, -0.0011), (2.68, -0.0001), (2.78, -0.0011), (2.88, -0.0011), (2.98, 0.0004),
    (3.07, -0.0001), (3.17, -0.0011), (3.27, -0.0001), (3.39, -0.0006), (3.49, -0.0011),
    (3.61, -0.0001), (3.71, -0.0011), (3.85, -0.0011), (3.95, -0.0031), (4.10, -0.0011),
    (4.20, -0.0021), (4.29, -0.0031), (4.44, -0.0031), (4.51, -0.0041), (4.49, -0.0011),
    (2.05, -0.0031), (2.17, -0.0041), (2.29, -0.0041), (2.37, -0.0056), (2.49, -0.0041),
    (2.54, -0.0036), (2.64, -0.0046), (2.73, -0.0041), (2.83, -0.0051), (2.93, -0.0036),
    (3.03, -0.0041), (3.15, -0.0046), (3.27, -0.0036), (3.37, -0.0031), (3.46, -0.0036),
    (3.56, -0.0021), (3.76, -0.0056), (3.78, -0.0066),
    (2.64, -0.0066), (2.68, -0.0081), (2.76, -0.0076), (2.81, -0.0066), (2.85, -0.0086),
    (2.25, -0.0081), (2.29, -0.0086), (2.29, -0.0111),
    (3.20, -0.0081), (3.27, -0.0086), (3.37, -0.0081), (3.44, -0.0081), (3.54, -0.0066),
    (3.66, -0.0106), (3.73, -0.0111), (3.81, -0.0101), (3.81, -0.0086), (3.90, -0.0086),
    (3.91, -0.0106), (4.15, -0.0061), (4.17, -0.0076), (4.29, -0.0096), (4.37, -0.0106),
    (4.42, -0.0111), (4.51, -0.0116), (2.73, -0.0096), (2.81, -0.0121), (3.03, -0.0106),
    (2.59, -0.0121), (2.16, -0.0143), (2.56, -0.0164),
    (2.93, -0.0164), (3.0, -0.0164), (3.07, -0.0164), (3.25, -0.0167), (3.34, -0.0164),
    (3.22, -0.0187), (3.34, -0.0192), (3.42, -0.0202), (3.51, -0.019), (3.59, -0.0146),
    (3.59, -0.0169), (3.76, -0.018), (3.76, -0.021),
    (4.12, -0.0121), (4.15, -0.0151), (4.28, -0.0157), (4.30, -0.0194), (4.51, -0.0161),
    (4.51, -0.0216), (2.38, -0.0217), (2.65, -0.0214), (3.05, -0.0242), (3.15, -0.026),
    (3.13, -0.0214), (3.64, -0.0232), (3.68, -0.026), (3.73, -0.028), (3.86, -0.0268),
    (3.99, -0.0254), (4.38, -0.0268), (2.40, -0.0288), (2.72, -0.0278), (4.0, -0.0303),
    (4.07, -0.028), (4.09, -0.0311), (3.71, -0.033), (3.82, -0.0342), (4.20, -0.0334),
    (4.53, 0.0177), (4.69, 0.0182), (5.23, 0.0168), (5.60, 0.0103), (4.54, 0.0092), (4.59, 0.0069),
    (4.64, 0.0044), (4.45, 0.0034), (4.74, 0.0019), (4.44, -0.0001), (4.46, -0.0011),
    (4.80, -0.0002), (4.93, -0.0002), (5.08, -0.0002), (5.21, -0.0002), (5.40, -0.0002),
    (5.63, -0.0002), (5.70, -0.0002), (5.83, 0.0005), (6.63, 0.0036), (6.72, 0.0027),
    (4.41, -0.0039), (4.56, -0.0037), (4.80, -0.0045), (4.82, -0.0057), (5.0, -0.0037),
    (5.50, -0.005), (4.63, -0.0064), (4.78, -0.0077), (4.61, -0.009), (4.71, -0.009),
    (4.76, -0.0097), (4.39, -0.0112), (4.58, -0.0117), (4.90, -0.0114), (4.93, -0.0127),
    (4.88, -0.013), (5.0, -0.0152), (4.63, -0.0162), (4.87, -0.0174), (4.84, -0.0205),
    (4.54, -0.0217), (4.61, -0.0222), (4.39, -0.0267), (4.59, -0.0274), (5.44, -0.0378),
]

panel_letters = ['A', 'B', 'C']
titles = ['Cell division', 'Pit hardening', 'Cell expansion']
# fitted line: intercept, slope, largest VPD
fits = [(0.0111, -0.0041, 6.43), (0.0068, -0.0017, 7.32), (0.0116, -0.0034, 6.73)]
equations = ['RGR = 0.011 - 0.004 VPD', 'RGR = 0.007 - 0.002 VPD', 'RGR = 0.012 - 0.003 VPD']
r_squared = ['0.177', '0.195', '0.160']
ylims = [(-0.06, 0.061), (-0.0252, 0.0279), (-0.0608, 0.061)]
yticks = [[-0.04, -0.02, 0.0, 0.02, 0.04],
          [-0.02, -0.01, 0.0, 0.01, 0.02],
          [-0.04, -0.02, 0.0, 0.02, 0.04]]
xticks = [0, 1, 2, 3, 4, 5, 6, 7]

W, H = 638, 1274
fig = plt.figure(figsize=(W / 100, H / 100), dpi=100)

left, right = 93, 630
edges = [(11, 412), (412, 810), (810, 1215)]

for i, pts in enumerate([pts_a, pts_b, pts_c]):
    top, bot = edges[i]
    h = bot - top
    ax = fig.add_axes([left / W, 1 - bot / H, (right - left) / W, h / H])
    vpd, rgr = np.array(pts).T
    ax.scatter(vpd, rgr, s=34, c='black', edgecolors='none', zorder=3)

    b0, b1, xmax = fits[i]
    xx = np.array([0.0, xmax])
    ax.plot(xx, b0 + b1 * xx, color='black', lw=1.1, zorder=4)

    ax.set_xlim(-0.4, 7.46)
    ax.set_ylim(*ylims[i])
    ax.set_xticks(xticks)
    ax.set_yticks(yticks[i])
    ax.set_yticklabels(['%.2f' % t for t in yticks[i]])
    ax.tick_params(axis='x', direction='in', length=5, width=0.9, labelsize=11, pad=9)
    ax.tick_params(axis='y', direction='out', length=5, width=0.9, labelsize=11, pad=4)
    if i < 2:
        ax.tick_params(axis='x', labelbottom=False)
    for sp in ax.spines.values():
        sp.set_linewidth(0.9)

    ax.set_ylabel('RGR (µm mm$^{-1}$ min$^{-1}$)', fontsize=13, labelpad=9)
    ax.text(0.507, 1 - 22 / h, titles[i], transform=ax.transAxes,
            ha='center', va='center', fontsize=13.5)
    ax.text(0.045, 57 / h, equations[i], transform=ax.transAxes,
            ha='left', va='center', fontsize=11)
    ax.text(0.045, 30 / h, 'R$^{2}$ = ' + r_squared[i], transform=ax.transAxes,
            ha='left', va='center', fontsize=11)
    ax.text(0.252, 30 / h, 'P < 0.001', transform=ax.transAxes,
            ha='left', va='center', fontsize=11)
    fig.text(17 / W, 1 - (top + 17) / H, panel_letters[i], fontsize=12.5,
             fontweight='bold', ha='center', va='center')

    if i == 2:
        ax.set_xlabel('VPD (kPa)', fontsize=14.5, labelpad=9)

fig.savefig('out.png', dpi=100)
